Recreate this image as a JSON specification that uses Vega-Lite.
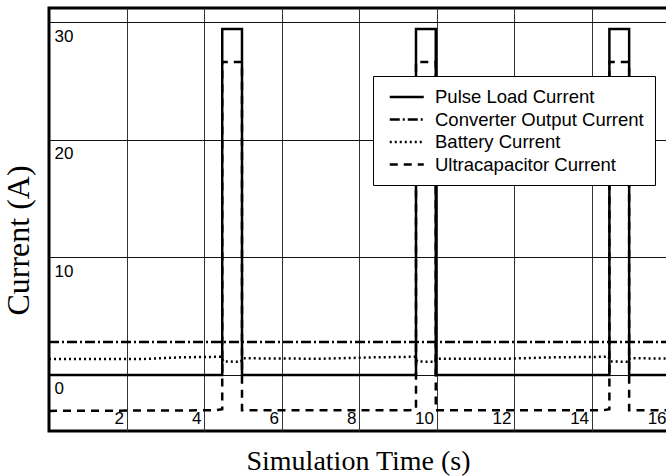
{
  "$schema": "https://vega.github.io/schema/vega-lite/v6.json",
  "width": 622,
  "height": 423,
  "autosize": {"type": "none"},
  "padding": {"left": 49, "top": 8, "right": 0, "bottom": 45},
  "background": "white",
  "config": {
    "view": {"stroke": "black", "strokeWidth": 3}
  },
  "data": {
    "values": [
      {"s": "Pulse Load Current", "i": 1, "t": 0, "v": 0},
      {"s": "Pulse Load Current", "i": 2, "t": 4.47, "v": 0},
      {"s": "Pulse Load Current", "i": 3, "t": 4.47, "v": 29.4},
      {"s": "Pulse Load Current", "i": 4, "t": 4.98, "v": 29.4},
      {"s": "Pulse Load Current", "i": 5, "t": 4.98, "v": 0},
      {"s": "Pulse Load Current", "i": 6, "t": 9.47, "v": 0},
      {"s": "Pulse Load Current", "i": 7, "t": 9.47, "v": 29.4},
      {"s": "Pulse Load Current", "i": 8, "t": 9.98, "v": 29.4},
      {"s": "Pulse Load Current", "i": 9, "t": 9.98, "v": 0},
      {"s": "Pulse Load Current", "i": 10, "t": 14.46, "v": 0},
      {"s": "Pulse Load Current", "i": 11, "t": 14.46, "v": 29.4},
      {"s": "Pulse Load Current", "i": 12, "t": 14.97, "v": 29.4},
      {"s": "Pulse Load Current", "i": 13, "t": 14.97, "v": 0},
      {"s": "Pulse Load Current", "i": 14, "t": 16.05, "v": 0},

      {"s": "Converter Output Current", "i": 1, "t": 0, "v": 2.8},
      {"s": "Converter Output Current", "i": 2, "t": 4.47, "v": 2.8},
      {"s": "Converter Output Current", "i": 3, "t": 4.98, "v": 2.8},
      {"s": "Converter Output Current", "i": 4, "t": 9.47, "v": 2.8},
      {"s": "Converter Output Current", "i": 5, "t": 9.98, "v": 2.8},
      {"s": "Converter Output Current", "i": 6, "t": 14.46, "v": 2.8},
      {"s": "Converter Output Current", "i": 7, "t": 14.97, "v": 2.8},
      {"s": "Converter Output Current", "i": 8, "t": 16.05, "v": 2.8},

      {"s": "Battery Current", "i": 1, "t": 0, "v": 1.35},
      {"s": "Battery Current", "i": 2, "t": 2.5, "v": 1.37},
      {"s": "Battery Current", "i": 3, "t": 3.4, "v": 1.5},
      {"s": "Battery Current", "i": 4, "t": 4.45, "v": 1.55},
      {"s": "Battery Current", "i": 5, "t": 4.5, "v": 1.15},
      {"s": "Battery Current", "i": 6, "t": 4.95, "v": 1.12},
      {"s": "Battery Current", "i": 7, "t": 5.0, "v": 1.42},
      {"s": "Battery Current", "i": 8, "t": 7.0, "v": 1.38},
      {"s": "Battery Current", "i": 9, "t": 8.4, "v": 1.5},
      {"s": "Battery Current", "i": 10, "t": 9.45, "v": 1.55},
      {"s": "Battery Current", "i": 11, "t": 9.5, "v": 1.15},
      {"s": "Battery Current", "i": 12, "t": 9.95, "v": 1.12},
      {"s": "Battery Current", "i": 13, "t": 10.0, "v": 1.38},
      {"s": "Battery Current", "i": 14, "t": 11.8, "v": 1.38},
      {"s": "Battery Current", "i": 15, "t": 13.0, "v": 1.5},
      {"s": "Battery Current", "i": 16, "t": 14.44, "v": 1.55},
      {"s": "Battery Current", "i": 17, "t": 14.49, "v": 1.15},
      {"s": "Battery Current", "i": 18, "t": 14.94, "v": 1.12},
      {"s": "Battery Current", "i": 19, "t": 14.99, "v": 1.42},
      {"s": "Battery Current", "i": 20, "t": 16.05, "v": 1.4},

      {"s": "Ultracapacitor Current", "i": 1, "t": 0, "v": -3.05},
      {"s": "Ultracapacitor Current", "i": 2, "t": 4.3, "v": -3.0},
      {"s": "Ultracapacitor Current", "i": 3, "t": 4.47, "v": -2.9},
      {"s": "Ultracapacitor Current", "i": 4, "t": 4.47, "v": 26.6},
      {"s": "Ultracapacitor Current", "i": 5, "t": 4.98, "v": 26.6},
      {"s": "Ultracapacitor Current", "i": 6, "t": 4.98, "v": -3.0},
      {"s": "Ultracapacitor Current", "i": 7, "t": 9.3, "v": -3.0},
      {"s": "Ultracapacitor Current", "i": 8, "t": 9.47, "v": -2.9},
      {"s": "Ultracapacitor Current", "i": 9, "t": 9.47, "v": 26.6},
      {"s": "Ultracapacitor Current", "i": 10, "t": 9.98, "v": 26.6},
      {"s": "Ultracapacitor Current", "i": 11, "t": 9.98, "v": -3.0},
      {"s": "Ultracapacitor Current", "i": 12, "t": 14.3, "v": -3.0},
      {"s": "Ultracapacitor Current", "i": 13, "t": 14.46, "v": -2.9},
      {"s": "Ultracapacitor Current", "i": 14, "t": 14.46, "v": 26.6},
      {"s": "Ultracapacitor Current", "i": 15, "t": 14.97, "v": 26.6},
      {"s": "Ultracapacitor Current", "i": 16, "t": 14.97, "v": -3.0},
      {"s": "Ultracapacitor Current", "i": 17, "t": 16.05, "v": -3.0}
    ]
  },
  "mark": {"type": "line", "color": "black", "strokeWidth": 2.5, "clip": true},
  "encoding": {
    "x": {
      "field": "t",
      "type": "quantitative",
      "scale": {"domain": [0, 16.05], "nice": false, "zero": false},
      "axis": {
        "title": "Simulation Time (s)",
        "values": [2, 4, 6, 8, 10, 12, 14, 16],
        "grid": true,
        "gridColor": "#333",
        "gridWidth": 1,
        "domain": false,
        "ticks": false,
        "tickSize": 0,
        "labelAlign": "right",
        "labelBaseline": "alphabetic",
        "labelPadding": -8,
        "labelOffset": -3,
        "labelFlush": false,
        "labelOverlap": false,
        "labelFont": "Liberation Sans",
        "labelFontSize": 17,
        "labelColor": "black",
        "titleFont": "Liberation Serif",
        "titleFontSize": 28,
        "titleFontWeight": "normal",
        "titleColor": "black",
        "titleX": 309,
        "titleY": 38,
        "titleBaseline": "alphabetic"
      }
    },
    "y": {
      "field": "v",
      "type": "quantitative",
      "scale": {"domain": [-4.76, 31.19], "nice": false, "zero": false},
      "axis": {
        "title": "Current (A)",
        "values": [0, 10, 20, 30],
        "grid": true,
        "gridColor": "#111",
        "gridWidth": 1,
        "domain": false,
        "ticks": false,
        "tickSize": 0,
        "labelAlign": "left",
        "labelBaseline": "top",
        "labelPadding": -5,
        "labelOffset": 6,
        "labelOverlap": false,
        "labelFont": "Liberation Sans",
        "labelFontSize": 17,
        "labelColor": "black",
        "titleFont": "Liberation Serif",
        "titleFontSize": 32,
        "titleFontWeight": "normal",
        "titleColor": "black",
        "titleX": -21,
        "titleY": 232,
        "titleBaseline": "alphabetic"
      }
    },
    "strokeDash": {
      "field": "s",
      "type": "nominal",
      "scale": {
        "domain": ["Pulse Load Current", "Converter Output Current", "Battery Current", "Ultracapacitor Current"],
        "range": [[1, 0], [10, 3, 2, 3], [2, 3], [8, 6]]
      },
      "legend": {
        "title": null,
        "orient": "none",
        "legendX": 324,
        "legendY": 68,
        "symbolType": "M-0.5,0H3.5",
        "symbolSize": 289,
        "symbolStrokeWidth": 2.5,
        "symbolStrokeColor": "black",
        "symbolFillColor": "transparent",
        "labelFont": "Liberation Sans",
        "labelFontSize": 18.5,
        "labelColor": "black",
        "labelOffset": 31,
        "labelLimit": 400,
        "strokeColor": "black",
        "fillColor": "white",
        "padding": 11,
        "rowPadding": 2.5
      }
    },
    "order": {"field": "i", "type": "quantitative"}
  }
}
